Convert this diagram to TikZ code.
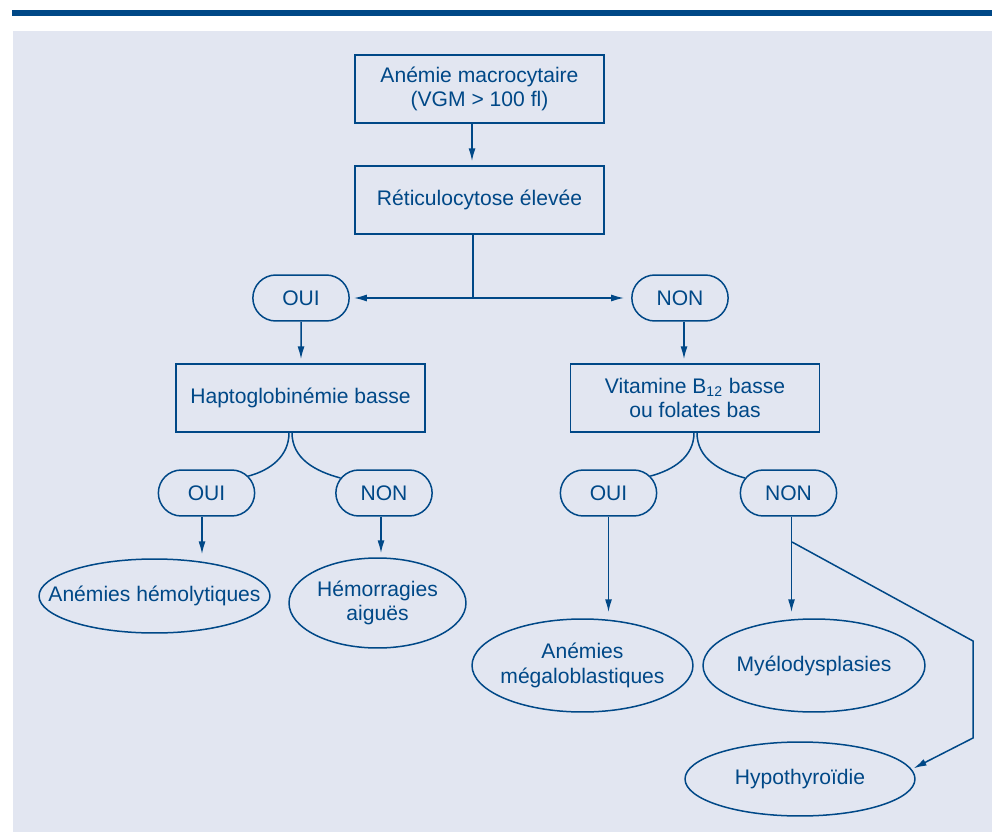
\documentclass[tikz,border=0pt]{standalone}
\usepackage{fontspec}
\setmainfont{Liberation Sans}
\usetikzlibrary{arrows.meta,shapes.misc,shapes.geometric}
\definecolor{medblue}{RGB}{0,72,135}
\definecolor{paleblue}{RGB}{226,230,241}
\begin{document}
\begin{tikzpicture}[x=0.02cm,y=-0.02cm,
  every node/.style={text=medblue,font=\fontsize{12}{14}\selectfont,align=center,line width=0.03cm},
  box/.style={draw=medblue,rectangle,minimum width=4.98cm,minimum height=1.36cm},
  answer/.style={draw=medblue,rounded rectangle,minimum width=2.16cm,minimum height=0.92cm},
  result/.style={draw=medblue,ellipse,inner sep=0pt},
  link/.style={draw=medblue,line width=0.03cm},
  arr/.style={link,-{Latex[length=0.26cm,width=0.14cm]},shorten >=0.08cm}]
\useasboundingbox (0,0) rectangle (992,832);
\fill[paleblue] (13,31) rectangle (992,832);
\fill[medblue] (12,10) rectangle (992,16);
\node[box] (start) at (479.5,89) {Anémie macrocytaire\\(VGM > 100 fl)};
\node[box] (reti) at (479.5,200) {Réticulocytose élevée};
\node[answer] (oui1) at (301,298) {OUI};
\node[answer] (non1) at (680,298) {NON};
\node[box] (hapto) at (300.5,398) {Haptoglobinémie basse};
\node[box] (vit) at (695,398) {Vitamine B\textsubscript{12} basse\\ou folates bas};
\node[answer] (oui2) at (206.5,493) {OUI};
\node[answer] (non2) at (384,493) {NON};
\node[answer] (oui3) at (608.5,493) {OUI};
\node[answer] (non3) at (788.5,493) {NON};
\node[result,minimum width=4.62cm,minimum height=1.48cm,label={center:Anémies hémolytiques}] (ell1) at (154.5,596) {};
\node[result,minimum width=3.54cm,minimum height=1.8cm,label={center:Hémorragies\\aiguës}] (ell2) at (377.5,603) {};
\node[result,minimum width=4.42cm,minimum height=1.86cm,label={center:Anémies\\mégaloblastiques}] (ell3) at (582.5,665.5) {};
\node[result,minimum width=4.44cm,minimum height=1.86cm,label={center:Myélodysplasies}] (ell4) at (814,665.5) {};
\node[result,minimum width=4.6cm,minimum height=1.48cm,label={center:Hypothyroïdie}] (ell5) at (800,779) {};
\coordinate (fork) at (792,542);
\coordinate (bendtop) at (973,641);
\coordinate (bendlow) at (973,738);
\draw[arr] ([xshift=-0.15cm]start.south) -- ([xshift=-0.15cm]reti.north);
\draw[arr] ([xshift=-0.13cm]reti.south) |- (oui1);
\draw[arr,shorten >=0.14cm] ([xshift=-0.13cm]reti.south) |- (non1);
\draw[arr] (oui1) -- (oui1 |- hapto.north);
\draw[arr] ([xshift=0.08cm]non1.south) -- ([xshift=0.08cm]non1.south |- vit.north);
\draw[link] ([xshift=-0.23cm]hapto.south) to[out=-90,in=15] (oui2.22);
\draw[link] ([xshift=-0.17cm]hapto.south) to[out=-90,in=165] (non2.161);
\draw[link] ([xshift=-0.02cm]vit.south) to[out=-90,in=15] (oui3.22);
\draw[link] ([xshift=0.04cm]vit.south) to[out=-90,in=165] (non3.161);
\draw[arr] ([xshift=-0.09cm]oui2.south) -- ([xshift=-0.09cm]oui2.south |- ell1.north);
\draw[arr] ([xshift=-0.06cm]non2.south) -- ([xshift=-0.06cm]non2.south |- ell2.north);
\draw[arr,shorten >=0.12cm] (oui3.south) -- (oui3.south |- ell3.north);
\draw[arr,shorten >=0.12cm] ([xshift=0.06cm]non3.south) -- ([xshift=0.06cm]non3.south |- ell4.north);
\draw[arr,shorten >=0.04cm] (fork) -- (bendtop) -- (bendlow) -- (ell5.5);
\end{tikzpicture}
\end{document}
